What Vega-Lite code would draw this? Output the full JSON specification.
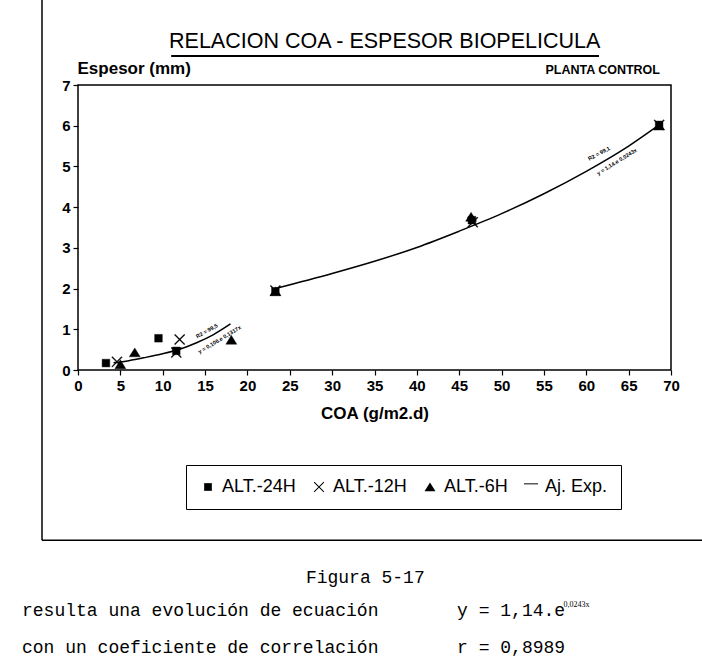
{
  "$schema": "https://vega.github.io/schema/vega-lite/v6.json",
  "width": 593,
  "height": 285,
  "autosize": {"type": "none"},
  "padding": {"left": 78, "top": 85, "right": 31, "bottom": 300},
  "background": "white",
  "config": {
    "view": {"stroke": "black", "strokeWidth": 1.5},
    "font": "Liberation Sans",
    "axis": {
      "domain": false,
      "grid": false,
      "tickColor": "black",
      "tickSize": 5,
      "tickWidth": 1.2,
      "labelFont": "Liberation Sans",
      "labelFontWeight": "bold",
      "labelFontSize": 15,
      "labelColor": "black",
      "labelPadding": 3,
      "labelOverlap": false,
      "labelFlush": false,
      "labelBound": false,
      "titleFont": "Liberation Sans",
      "titleFontWeight": "bold",
      "titleFontSize": 17,
      "titleColor": "black"
    }
  },
  "datasets": {
    "puntos": [
      {"serie": "ALT.-24H", "coa": 3.3, "espesor": 0.17},
      {"serie": "ALT.-24H", "coa": 9.5, "espesor": 0.78},
      {"serie": "ALT.-24H", "coa": 11.6, "espesor": 0.47},
      {"serie": "ALT.-24H", "coa": 23.3, "espesor": 1.93},
      {"serie": "ALT.-24H", "coa": 46.5, "espesor": 3.68},
      {"serie": "ALT.-24H", "coa": 68.6, "espesor": 6.02},
      {"serie": "ALT.-6H", "coa": 5.0, "espesor": 0.14},
      {"serie": "ALT.-6H", "coa": 6.7, "espesor": 0.43},
      {"serie": "ALT.-6H", "coa": 18.1, "espesor": 0.74},
      {"serie": "ALT.-6H", "coa": 23.3, "espesor": 1.93},
      {"serie": "ALT.-6H", "coa": 46.4, "espesor": 3.76},
      {"serie": "ALT.-6H", "coa": 68.6, "espesor": 6.0},
      {"serie": "ALT.-12H", "coa": 4.6, "espesor": 0.2},
      {"serie": "ALT.-12H", "coa": 12.0, "espesor": 0.75},
      {"serie": "ALT.-12H", "coa": 11.6, "espesor": 0.43},
      {"serie": "ALT.-12H", "coa": 23.3, "espesor": 1.95},
      {"serie": "ALT.-12H", "coa": 46.6, "espesor": 3.63},
      {"serie": "ALT.-12H", "coa": 68.6, "espesor": 6.02}
    ],
    "ajuste": [
      {"tramo": 1, "coa": 4.2, "espesor": 0.18},
      {"tramo": 1, "coa": 6, "espesor": 0.23},
      {"tramo": 1, "coa": 8, "espesor": 0.31},
      {"tramo": 1, "coa": 10, "espesor": 0.4},
      {"tramo": 1, "coa": 12, "espesor": 0.51},
      {"tramo": 1, "coa": 14, "espesor": 0.67},
      {"tramo": 1, "coa": 16, "espesor": 0.87},
      {"tramo": 1, "coa": 18, "espesor": 1.13},
      {"tramo": 2, "coa": 23.3, "espesor": 2.0},
      {"tramo": 2, "coa": 30, "espesor": 2.37},
      {"tramo": 2, "coa": 35, "espesor": 2.67},
      {"tramo": 2, "coa": 40, "espesor": 3.01},
      {"tramo": 2, "coa": 45, "espesor": 3.41},
      {"tramo": 2, "coa": 50, "espesor": 3.84},
      {"tramo": 2, "coa": 55, "espesor": 4.33},
      {"tramo": 2, "coa": 60, "espesor": 4.88},
      {"tramo": 2, "coa": 65, "espesor": 5.5},
      {"tramo": 2, "coa": 68.6, "espesor": 6.02}
    ],
    "marco": [
      {"coa": -4.25, "espesor": 9.3, "coa2": -4.25, "espesor2": -4.18},
      {"coa": -4.25, "espesor": -4.18, "coa2": 74, "espesor2": -4.18}
    ],
    "subrayado": [
      {"coa": 11.0, "espesor": 7.71, "coa2": 61.5, "espesor2": 7.71}
    ],
    "titulo": [
      {"coa": 36.2, "espesor": 7.91, "texto": "RELACION COA - ESPESOR BIOPELICULA"}
    ],
    "planta": [
      {"coa": 68.7, "espesor": 7.37, "texto": "PLANTA CONTROL"}
    ],
    "etiquetas_ajuste": [
      {"coa": 15.2, "espesor": 0.96, "angulo": -29, "texto": "R2 = 99,5"},
      {"coa": 16.7, "espesor": 0.75, "angulo": -31, "texto": "y = 0,106.e 0,1317x"},
      {"coa": 61.5, "espesor": 5.32, "angulo": -28, "texto": "R2 = 99,1"},
      {"coa": 63.6, "espesor": 5.12, "angulo": -32, "texto": "y = 1,14.e 0,0243x"}
    ],
    "pie": [
      {"coa": 26.9, "espesor": -5.11, "texto": "Figura 5-17"},
      {"coa": -6.61, "espesor": -5.92, "texto": "resulta una evolución de ecuación"},
      {"coa": -6.61, "espesor": -6.83, "texto": "con un coeficiente de correlación"},
      {"coa": 44.75, "espesor": -5.92, "texto": "y = 1,14.e"},
      {"coa": 44.75, "espesor": -6.83, "texto": "r = 0,8989"}
    ],
    "exponente": [
      {"coa": 57.3, "espesor": -5.76, "texto": "0,0243x"}
    ]
  },
  "encoding": {
    "x": {
      "field": "coa", "type": "quantitative",
      "scale": {"domain": [0, 70], "nice": false},
      "axis": {"title": "COA (g/m2.d)", "values": [0, 5, 10, 15, 20, 25, 30, 35, 40, 45, 50, 55, 60, 65, 70], "titlePadding": 12}
    },
    "y": {
      "field": "espesor", "type": "quantitative",
      "scale": {"domain": [0, 7], "nice": false},
      "axis": {"title": "Espesor (mm)", "values": [0, 1, 2, 3, 4, 5, 6, 7], "titleAngle": 0, "titleAlign": "left", "titleBaseline": "middle", "titleX": -1, "titleY": -17}
    }
  },
  "layer": [
    {
      "data": {"name": "marco"},
      "mark": {"type": "rule", "color": "black", "strokeWidth": 1.5},
      "encoding": {"x2": {"field": "coa2"}, "y2": {"field": "espesor2"}}
    },
    {
      "data": {"name": "subrayado"},
      "mark": {"type": "rule", "color": "black", "strokeWidth": 2},
      "encoding": {"x2": {"field": "coa2"}, "y2": {"field": "espesor2"}}
    },
    {
      "data": {"name": "titulo"},
      "mark": {"type": "text", "font": "Liberation Sans", "fontSize": 21.5, "align": "center", "baseline": "alphabetic", "color": "black"},
      "encoding": {"text": {"field": "texto"}}
    },
    {
      "data": {"name": "planta"},
      "mark": {"type": "text", "font": "Liberation Sans", "fontWeight": "bold", "fontSize": 12.5, "align": "right", "baseline": "middle", "color": "black"},
      "encoding": {"text": {"field": "texto"}}
    },
    {
      "data": {"name": "ajuste"},
      "mark": {"type": "line", "color": "black", "strokeWidth": 1.5, "interpolate": "monotone"},
      "encoding": {"detail": {"field": "tramo", "type": "nominal"}}
    },
    {
      "data": {"name": "etiquetas_ajuste"},
      "mark": {"type": "text", "font": "Liberation Sans", "fontWeight": "bold", "fontSize": 5.5, "align": "center", "baseline": "middle", "color": "black"},
      "encoding": {
        "angle": {"field": "angulo", "type": "quantitative", "scale": null},
        "text": {"field": "texto"}
      }
    },
    {
      "data": {"name": "puntos"},
      "mark": {"type": "point", "filled": true, "color": "black", "stroke": "black", "strokeWidth": 0.4, "opacity": 1, "size": 196},
      "encoding": {
        "shape": {
          "field": "serie", "type": "nominal",
          "scale": {
            "domain": ["ALT.-24H", "ALT.-12H", "ALT.-6H", "Aj. Exp."],
            "range": [
              "M-0.55,-0.55H0.55V0.55H-0.55Z",
              "M-0.65,-0.75L0.75,0.65L0.65,0.75L-0.75,-0.65ZM-0.75,0.65L0.65,-0.75L0.75,-0.65L-0.65,0.75Z",
              "M0,-0.65L0.78,0.62L-0.78,0.62Z",
              "M-1,-0.52H1V-0.38H-1Z"
            ]
          },
          "legend": {
            "title": null, "orient": "none", "legendX": 108, "legendY": 380, "direction": "horizontal",
            "strokeColor": "black", "padding": 13,
            "labelFont": "Liberation Sans", "labelFontSize": 18, "labelColor": "black", "labelOffset": 5,
            "columnPadding": 14, "symbolSize": 196, "symbolFillColor": "black", "symbolStrokeColor": "black",
            "symbolStrokeWidth": 0.4, "symbolOpacity": 1
          }
        }
      }
    },
    {
      "data": {"name": "pie"},
      "mark": {"type": "text", "font": "Liberation Mono", "fontSize": 18, "align": "left", "baseline": "middle", "color": "black"},
      "encoding": {"text": {"field": "texto"}}
    },
    {
      "data": {"name": "exponente"},
      "mark": {"type": "text", "font": "Liberation Serif", "fontSize": 8, "align": "left", "baseline": "middle", "color": "black"},
      "encoding": {"text": {"field": "texto"}}
    }
  ]
}
